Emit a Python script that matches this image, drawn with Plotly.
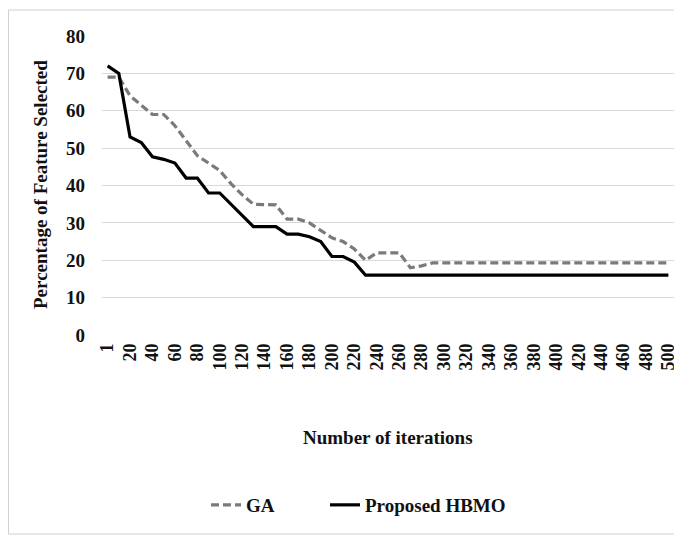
import plotly.graph_objects as go

iterations = ["1"] + [str(v) for v in range(10, 501, 10)]
tick_labels = ["1"] + [str(v) for v in range(20, 501, 20)]

ga = [69, 69, 64, 61.5, 59, 59, 56, 52, 48, 46, 44, 40.5, 37.5, 35, 35, 34.8,
      31, 31, 30, 28, 26, 25, 23, 20, 22, 22, 22, 18, 18.5,
      19.3, 19.3, 19.3, 19.3, 19.3, 19.3, 19.3, 19.3, 19.3, 19.3, 19.3,
      19.3, 19.3, 19.3, 19.3, 19.3, 19.3, 19.3, 19.3, 19.3, 19.3, 19.3]
hbmo = [72, 70, 53, 51.5, 47.7, 47, 46, 42, 42, 38, 38, 35, 32, 29, 29, 29,
        27, 27, 26.3, 25, 21, 21, 19.5, 16,
        16, 16, 16, 16, 16, 16, 16, 16, 16, 16, 16, 16, 16, 16, 16, 16,
        16, 16, 16, 16, 16, 16, 16, 16, 16, 16, 16]

FONT = "Liberation Serif"
OFF = 8  # page body margin
W, H = 674, 535
L, R, T, B = 94, 8, 28, 208
pw, ph = W - L - R, H - T - B

def px(x):  # screen x -> paper
    return (x - OFF - L) / pw

def py(y):  # screen y -> paper
    return (H - B - (y - OFF)) / ph

legend_font = dict(family=FONT, size=19, color="#111111", weight="bold")

fig = go.Figure()
fig.add_trace(go.Scatter(x=iterations, y=ga, mode="lines", name="GA", legend="legend",
                         line=dict(color="#7a7a7a", width=3.2, dash="8px,4px")))
fig.add_trace(go.Scatter(x=iterations, y=hbmo, mode="lines", name="Proposed HBMO",
                         legend="legend2", line=dict(color="#000000", width=3.2)))

fig.update_layout(
    width=W, height=H,
    margin=dict(l=L, r=R, t=T, b=B, autoexpand=False),
    plot_bgcolor="white", paper_bgcolor="white",
    font=dict(family=FONT, size=18, color="#111111"),
    showlegend=True,
    legend=dict(orientation="h", x=px(206), xanchor="left", y=py(505), yanchor="middle",
                font=legend_font, bgcolor="rgba(0,0,0,0)"),
    legend2=dict(orientation="h", x=px(325), xanchor="left", y=py(505), yanchor="middle",
                 font=legend_font, bgcolor="rgba(0,0,0,0)"),
    xaxis=dict(type="category", tickmode="array", tickvals=tick_labels, ticktext=tick_labels,
               tickangle=-90, showgrid=False, zeroline=False, showline=False,
               ticks="", tickfont=dict(family=FONT, size=18, weight="bold", color="#111111"),
               ticklabelstandoff=4, range=[-0.5, 50.5], automargin=False),
    yaxis=dict(range=[0, 80], tickvals=[0, 10, 20, 30, 40, 50, 60, 70, 80],
               showgrid=True, gridcolor="#d9d9d9", gridwidth=1, zeroline=False,
               showline=False, ticks="", automargin=False,
               tickfont=dict(family=FONT, size=19, weight="bold", color="#111111"),
               ticklabelstandoff=16),
    annotations=[
        dict(text="Number of iterations", xref="paper", yref="paper",
             x=px(388), y=py(437), xanchor="center", yanchor="middle", showarrow=False,
             font=dict(family=FONT, size=19, weight="bold", color="#111111")),
        dict(text="Percentage of Feature Selected", xref="paper", yref="paper",
             x=px(40), y=py(185), xanchor="center", yanchor="middle", showarrow=False,
             textangle=-90,
             font=dict(family=FONT, size=19, weight="bold", color="#111111")),
    ],
    shapes=[
        dict(type="rect", xref="paper", yref="paper",
             x0=px(OFF + 0.5), x1=px(678), y0=py(534), y1=py(10),
             line=dict(color="#d0d0d0", width=1), layer="below"),
    ],
)

fig.write_html("out.html")
